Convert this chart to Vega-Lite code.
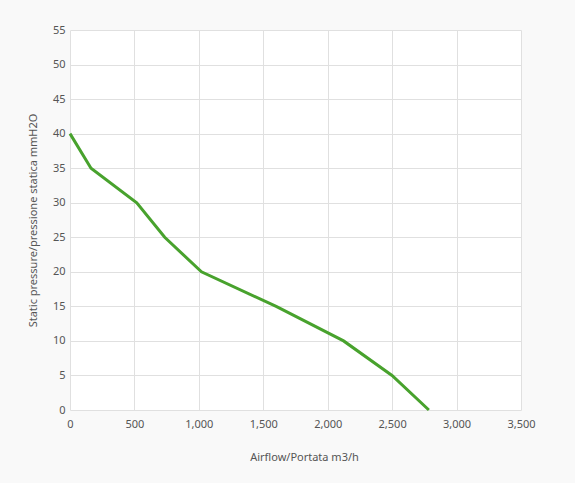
{
  "$schema": "https://vega.github.io/schema/vega-lite/v6.json",
  "autosize": "none",
  "width": 451,
  "height": 380,
  "padding": {"left": 70, "top": 30, "right": 54, "bottom": 73},
  "background": "#f9f9f9",
  "view": {"fill": "#ffffff", "stroke": null},
  "config": {"font": "Noto Sans"},
  "data": {"values": [
    {"airflow": 0, "pressure": 40},
    {"airflow": 163, "pressure": 35},
    {"airflow": 518, "pressure": 30},
    {"airflow": 735, "pressure": 25},
    {"airflow": 1020, "pressure": 20},
    {"airflow": 1600, "pressure": 15},
    {"airflow": 2123, "pressure": 10},
    {"airflow": 2499, "pressure": 5},
    {"airflow": 2785, "pressure": 0}
  ]},
  "mark": {"type": "line", "color": "#48a22d", "strokeWidth": 3},
  "encoding": {
    "x": {"field": "airflow", "type": "quantitative",
      "scale": {"domain": [0, 3500], "nice": false},
      "axis": {"title": "Airflow/Portata m3/h", "values": [0,500,1000,1500,2000,2500,3000,3500],
        "format": ",d", "domain": false, "ticks": false, "labelPadding": 8,
        "labelFontSize": 11, "labelColor": "#555555", "titleFontSize": 11, "titleFontWeight": "normal",
        "titleColor": "#555555", "titlePadding": 22, "titleX": 234, "gridColor": "#e0e0e0", "labelFlush": false}},
    "y": {"field": "pressure", "type": "quantitative",
      "scale": {"domain": [0, 55], "nice": false},
      "axis": {"title": "Static pressure/pressione statica mmH2O", "values": [0,5,10,15,20,25,30,35,40,45,50,55],
        "domain": false, "ticks": false, "labelPadding": 5,
        "labelFontSize": 11, "labelColor": "#555555", "titleFontSize": 11, "titleFontWeight": "normal",
        "titleColor": "#555555", "titlePadding": 14, "gridColor": "#e0e0e0", "labelFlush": false}}
  }
}
